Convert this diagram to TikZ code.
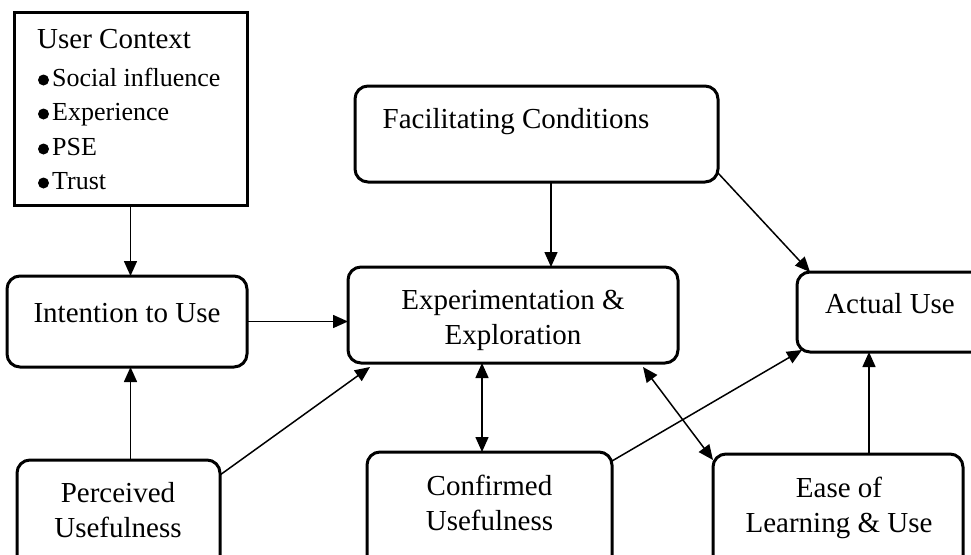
\documentclass[tikz,border=0pt]{standalone}
\usepackage{fontspec}
\setmainfont{Liberation Serif}
\usetikzlibrary{arrows.meta}
\tikzset{
  boxR/.style={draw, line width=3pt, rounded corners=13pt, inner sep=0pt, outer sep=0pt},
  boxS/.style={draw, line width=3pt, inner sep=0pt, outer sep=0pt},
  lbl/.style={font=\fontsize{29}{35}\selectfont, inner sep=0pt, anchor=base},
  itm/.style={font=\fontsize{26}{31}\selectfont, inner sep=0pt, anchor=base west},
  tipT/.tip={Triangle[length=15pt,width=13pt]},
  conn/.style={line width=1.5pt, -tipT},
  connB/.style={line width=1.5pt, tipT-tipT},
}
\begin{document}
\begin{tikzpicture}[x=1pt,y=-1pt]
  \useasboundingbox (0,0) rectangle (971,554);
  \fill[white] (0,0) rectangle (971,554);
  \clip (0,0) rectangle (971,554);

  % boxes
  \node[boxS, minimum width=233pt, minimum height=193pt] (uc)  at (130.5,108.5) {};
  \node[boxR, minimum width=363pt, minimum height=96pt]  (fc)  at (536.5,134) {};
  \node[boxR, minimum width=240pt, minimum height=91pt]  (itu) at (127,321.5) {};
  \node[boxR, minimum width=330pt, minimum height=96pt]  (exp) at (513,315) {};
  \node[boxR, minimum width=213pt, minimum height=80pt]  (au)  at (903.5,312) {};
  \node[boxR, minimum width=203pt, minimum height=140pt] (pu)  at (118.5,530) {};
  \node[boxR, minimum width=245pt, minimum height=148pt] (cu)  at (489.5,526) {};
  \node[boxR, minimum width=250pt, minimum height=146pt] (eou) at (838,527) {};

  % user context list
  \node[lbl, anchor=base west] (ucT) at (37,48) {User Context};
  \node[itm] (ucA) at (52,86)  {Social influence};
  \node[itm] (ucB) at (52,120) {Experience};
  \node[itm] (ucC) at (52,155) {PSE};
  \node[itm] (ucD) at (52,189) {Trust};
  \foreach \yy in {80,114,149,183} \fill (43.5,\yy) circle (5.5pt);

  % box labels
  \node[lbl] (fcT)   at (516,128)   {Facilitating Conditions};
  \node[lbl] (ituT)  at (127,322)   {Intention to Use};
  \node[lbl] (expT1) at (513,309)   {Experimentation \&};
  \node[lbl] (expT2) at (513,344)   {Exploration};
  \node[lbl] (auT)   at (890,313)   {Actual Use};
  \node[lbl] (puT1)  at (118,502)   {Perceived};
  \node[lbl] (puT2)  at (118,537)   {Usefulness};
  \node[lbl] (cuT1)  at (489.5,495) {Confirmed};
  \node[lbl] (cuT2)  at (489.5,530) {Usefulness};
  \node[lbl] (eouT1) at (839,497)   {Ease of};
  \node[lbl] (eouT2) at (839,532)   {Learning \& Use};

  % connectors
  \draw[conn] (uc.south) -- (uc.south |- itu.north);
  \draw[conn] (uc.south |- pu.north) -- (uc.south |- itu.south);
  \draw[conn] (itu.east) -- (itu.east -| exp.west);
  \draw[conn] ([yshift=-15pt]pu.north east) -- ([xshift=22pt,yshift=-4pt]exp.south west);
  \draw[conn] ([xshift=14.5pt]fc.south) -- ([xshift=14.5pt]fc.south |- exp.north);
  \draw[conn] ([yshift=9pt]fc.south east) -- ([xshift=13pt]au.north west);
  \draw[conn] ([yshift=-9pt]cu.north east) -- ([xshift=5pt,yshift=2pt]au.south west);
  \draw[conn] ([xshift=31pt]eou.north) -- ([xshift=31pt]eou.north |- au.south);
  \draw[connB] ([xshift=-31pt]exp.south) -- ([xshift=-31pt]exp.south |- cu.north);
  \draw[connB] ([xshift=-35pt,yshift=-4pt]exp.south east) -- ([yshift=-6pt]eou.north west);
\end{tikzpicture}
\end{document}
